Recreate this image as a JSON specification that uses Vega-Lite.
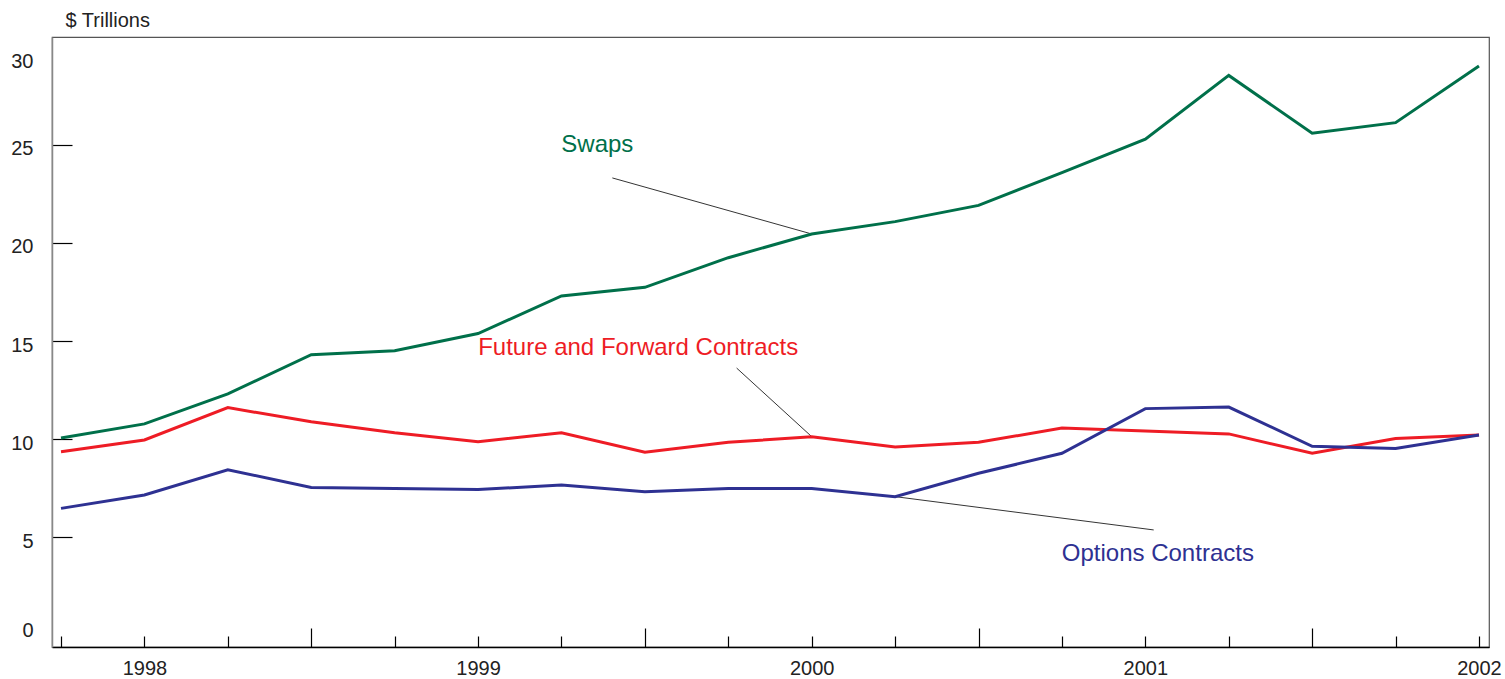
{
  "$schema": "https://vega.github.io/schema/vega-lite/v6.json",
  "width": 1437,
  "height": 610,
  "autosize": "none",
  "padding": {"left": 52, "top": 37, "right": 16, "bottom": 32},
  "background": "white",
  "config": {
    "view": {"stroke": "#555", "strokeWidth": 1.2},
    "font": "Liberation Sans"
  },
  "datasets": {
    "series": [
      {"q": 0, "series": "Swaps", "value": 10.05},
      {"q": 1, "series": "Swaps", "value": 10.77},
      {"q": 2, "series": "Swaps", "value": 12.3},
      {"q": 3, "series": "Swaps", "value": 14.3},
      {"q": 4, "series": "Swaps", "value": 14.5},
      {"q": 5, "series": "Swaps", "value": 15.38},
      {"q": 6, "series": "Swaps", "value": 17.3},
      {"q": 7, "series": "Swaps", "value": 17.74},
      {"q": 8, "series": "Swaps", "value": 19.25},
      {"q": 9, "series": "Swaps", "value": 20.46},
      {"q": 10, "series": "Swaps", "value": 21.09},
      {"q": 11, "series": "Swaps", "value": 21.92},
      {"q": 12, "series": "Swaps", "value": 23.59},
      {"q": 13, "series": "Swaps", "value": 25.3},
      {"q": 14, "series": "Swaps", "value": 28.55},
      {"q": 15, "series": "Swaps", "value": 25.6},
      {"q": 16, "series": "Swaps", "value": 26.14},
      {"q": 17, "series": "Swaps", "value": 29.03},
      {"q": 0, "series": "Future and Forward Contracts", "value": 9.35},
      {"q": 1, "series": "Future and Forward Contracts", "value": 9.95},
      {"q": 2, "series": "Future and Forward Contracts", "value": 11.6},
      {"q": 3, "series": "Future and Forward Contracts", "value": 10.88},
      {"q": 4, "series": "Future and Forward Contracts", "value": 10.32},
      {"q": 5, "series": "Future and Forward Contracts", "value": 9.86},
      {"q": 6, "series": "Future and Forward Contracts", "value": 10.32},
      {"q": 7, "series": "Future and Forward Contracts", "value": 9.32},
      {"q": 8, "series": "Future and Forward Contracts", "value": 9.83},
      {"q": 9, "series": "Future and Forward Contracts", "value": 10.12},
      {"q": 10, "series": "Future and Forward Contracts", "value": 9.59},
      {"q": 11, "series": "Future and Forward Contracts", "value": 9.83},
      {"q": 12, "series": "Future and Forward Contracts", "value": 10.56},
      {"q": 13, "series": "Future and Forward Contracts", "value": 10.41},
      {"q": 14, "series": "Future and Forward Contracts", "value": 10.26},
      {"q": 15, "series": "Future and Forward Contracts", "value": 9.27},
      {"q": 16, "series": "Future and Forward Contracts", "value": 10.03},
      {"q": 17, "series": "Future and Forward Contracts", "value": 10.2},
      {"q": 0, "series": "Options Contracts", "value": 6.46},
      {"q": 1, "series": "Options Contracts", "value": 7.14},
      {"q": 2, "series": "Options Contracts", "value": 8.43},
      {"q": 3, "series": "Options Contracts", "value": 7.53},
      {"q": 4, "series": "Options Contracts", "value": 7.47},
      {"q": 5, "series": "Options Contracts", "value": 7.42},
      {"q": 6, "series": "Options Contracts", "value": 7.65},
      {"q": 7, "series": "Options Contracts", "value": 7.31},
      {"q": 8, "series": "Options Contracts", "value": 7.47},
      {"q": 9, "series": "Options Contracts", "value": 7.48},
      {"q": 10, "series": "Options Contracts", "value": 7.06},
      {"q": 11, "series": "Options Contracts", "value": 8.25},
      {"q": 12, "series": "Options Contracts", "value": 9.27},
      {"q": 13, "series": "Options Contracts", "value": 11.55},
      {"q": 14, "series": "Options Contracts", "value": 11.63},
      {"q": 15, "series": "Options Contracts", "value": 9.63},
      {"q": 16, "series": "Options Contracts", "value": 9.52},
      {"q": 17, "series": "Options Contracts", "value": 10.2}
    ],
    "labels": [
      {"series": "Swaps", "tq": 6.43, "tv": 25.0, "q1": 6.61, "v1": 23.32, "q2": 9, "v2": 20.46},
      {"series": "Future and Forward Contracts", "tq": 6.92, "tv": 14.64, "q1": 8.1, "v1": 13.62, "q2": 9, "v2": 10.12},
      {"series": "Options Contracts", "tq": 13.15, "tv": 4.13, "q1": 13.1, "v1": 5.36, "q2": 10, "v2": 7.06}
    ]
  },
  "layer": [
    {
      "data": {"name": "labels"},
      "mark": {"type": "rule", "color": "#000", "strokeWidth": 0.8},
      "encoding": {
        "x": {"field": "q1", "type": "quantitative"},
        "y": {"field": "v1", "type": "quantitative"},
        "x2": {"field": "q2"},
        "y2": {"field": "v2"}
      }
    },
    {
      "data": {"name": "series"},
      "mark": {"type": "line", "strokeWidth": 3, "strokeJoin": "miter"},
      "encoding": {
        "x": {
          "field": "q",
          "type": "quantitative",
          "scale": {"domain": [-0.108, 17.12], "nice": false, "zero": false},
          "axis": {
            "title": null,
            "values": [0,1,2,3,4,5,6,7,8,9,10,11,12,13,14,15,16,17],
            "labelExpr": "datum.value % 4 == 1 ? toString(1998 + (datum.value - 1) / 4) : ''",
            "labelOverlap": false,
            "labelFlush": false,
            "grid": false,
            "domainColor": "#000",
            "domainWidth": 1.5,
            "tickColor": "#000",
            "tickWidth": 1.2,
            "tickSize": {"condition": {"test": "datum.value % 4 == 3", "value": -19}, "value": -11},
            "labelFontSize": 20,
            "labelColor": "#222",
            "labelPadding": 22
          }
        },
        "y": {
          "field": "value",
          "type": "quantitative",
          "scale": {"domain": [-0.612, 30.51], "nice": false, "zero": false},
          "axis": {
            "title": "$ Trillions",
            "titleAngle": 0,
            "titleAlign": "left",
            "titleBaseline": "middle",
            "titleX": 13,
            "titleY": -17,
            "titleFontSize": 20,
            "titleFontWeight": "normal",
            "titleColor": "#222",
            "values": [0, 5, 10, 15, 20, 25, 30],
            "grid": false,
            "domainColor": "#888",
            "domainWidth": 1.5,
            "tickColor": "#000",
            "tickWidth": 1.2,
            "tickSize": -20,
            "tickOpacity": {"condition": {"test": "datum.value == 0 || datum.value == 30", "value": 0}, "value": 1},
            "labelOffset": {"condition": [{"test": "datum.value == 30", "value": 15}, {"test": "datum.value == 0", "value": -5}], "value": 4},
            "labelFontSize": 20,
            "labelColor": "#222",
            "labelPadding": 39
          }
        },
        "color": {
          "field": "series",
          "type": "nominal",
          "scale": {
            "domain": ["Swaps", "Future and Forward Contracts", "Options Contracts"],
            "range": ["#00704a", "#ee1c25", "#2e3192"]
          },
          "legend": null
        }
      }
    },
    {
      "data": {"name": "labels"},
      "mark": {"type": "text", "fontSize": 24, "align": "center", "baseline": "middle"},
      "encoding": {
        "x": {"field": "tq", "type": "quantitative"},
        "y": {"field": "tv", "type": "quantitative"},
        "text": {"field": "series"},
        "color": {"field": "series", "type": "nominal", "legend": null}
      }
    }
  ]
}
